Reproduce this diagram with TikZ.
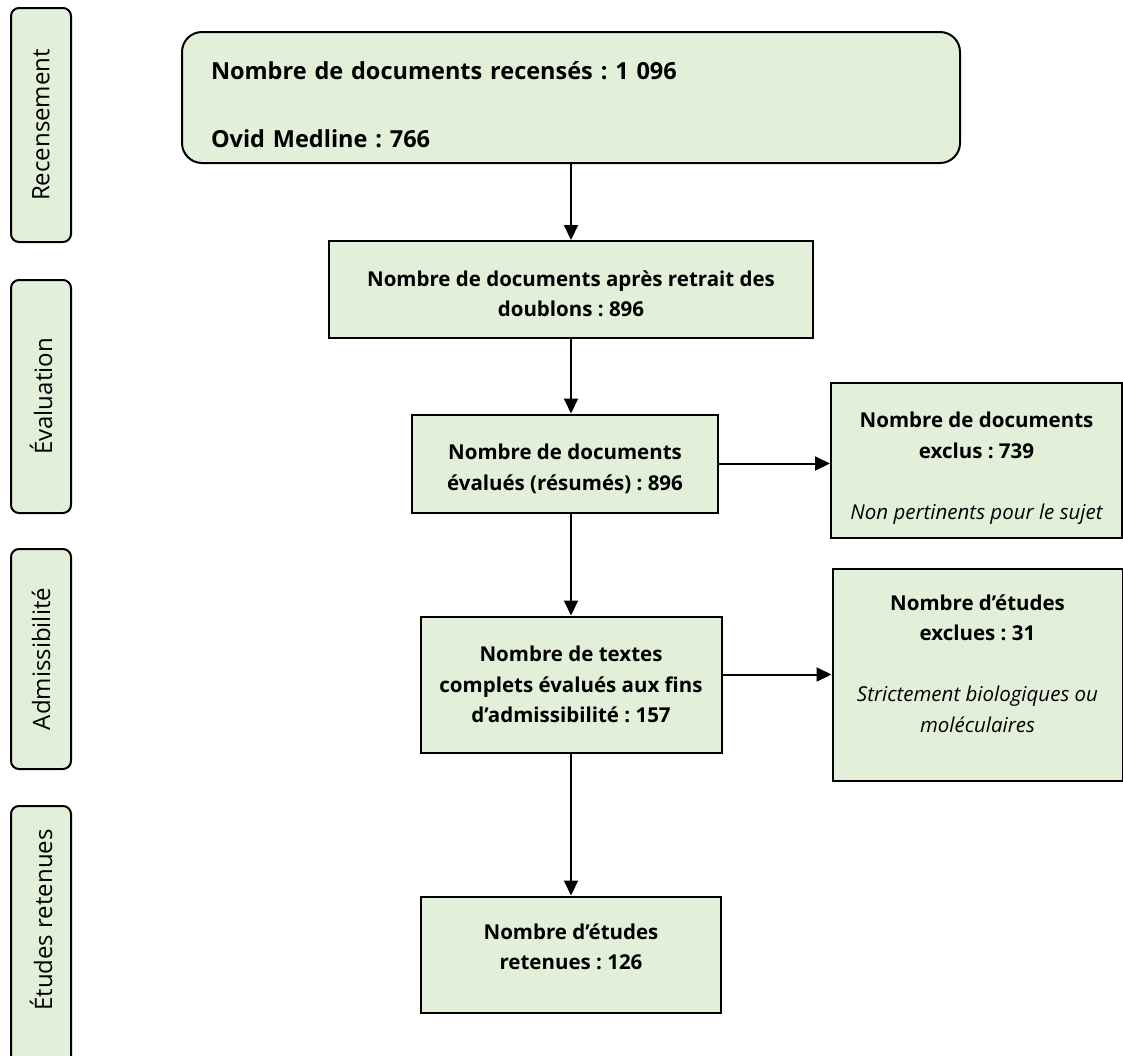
\documentclass[tikz,border=0pt]{standalone}
\usepackage{fontspec}
\setmainfont{Open Sans}
\frenchspacing
\usetikzlibrary{positioning,arrows.meta}
\definecolor{boxgreen}{HTML}{E2EFD9}

\begin{document}
\begin{tikzpicture}[x=1pt,y=-1pt,node distance=100pt,>={Triangle[length=15pt,width=14pt]},line width=2pt,
    flowbox/.style={draw, fill=boxgreen, align=center, inner sep=0pt, font=\bfseries\fontsize{20.5}{30.5}\selectfont},
    phase/.style={draw, fill=boxgreen, rounded corners=8pt, rotate=90, minimum height=60pt, inner sep=0pt, font=\fontsize{24}{28}\selectfont}]
        \useasboundingbox (0,0) rectangle (1123,1055);
        \clip (0,0) rectangle (1123,1055);
        \node (recensement) [phase, minimum width=234pt] at (41,125) {Recensement};
        \node (evaluation) [phase, minimum width=233pt] at (41,396.5) {Évaluation};
        \node (admissibilite) [phase, minimum width=220pt] at (41,659) {Admissibilité};
        \node (etudes) [phase, minimum width=270pt] at (41,941) {\hspace*{42pt}Études retenues};
        \node (recens) [flowbox, rounded corners=20pt, align=left, minimum width=778pt, minimum height=131pt, text width=720pt, font=\bfseries\fontsize{23.5}{34}\selectfont] at (571,97.5) {\rule{0pt}{33pt}Nombre de documents recensés : 1 096\\[34pt]Ovid Medline : 766};
        \node (doublons) [flowbox, below of=recens, yshift=-92pt, minimum width=484pt, minimum height=97pt] {\rule{0pt}{24pt}Nombre de documents après retrait des\\doublons : 896};
        \node (evalues) [flowbox, below of=doublons, yshift=-74pt, xshift=-6pt, minimum width=306pt, minimum height=98pt] {\rule{0pt}{26pt}Nombre de documents\\évalués (résumés) : 896};
        \node (admiss) [flowbox, below of=evalues, yshift=-121pt, xshift=6pt, minimum width=301pt, minimum height=136pt] {Nombre de textes\\complets évalués aux fins\\d’admissibilité : 157};
        \node (retenues) [flowbox, below of=admiss, yshift=-170pt, minimum width=300pt, minimum height=116pt] {Nombre d’études\\retenues : 126\rule[-16pt]{0pt}{16pt}};
        \node (exclusdoc) [flowbox, right of=evalues, xshift=311.5pt, yshift=3pt, minimum width=291pt, minimum height=155pt] {\rule{0pt}{31pt}Nombre de documents\\exclus : 739\\[30.5pt]{\mdseries\itshape Non pertinents pour le sujet}};
        \node (exclusetu) [flowbox, right of=admiss, xshift=306.5pt, yshift=10pt, minimum width=290pt, minimum height=212pt] {Nombre d’études\\exclues : 31\\[30.5pt]{\mdseries\itshape Strictement biologiques ou}\\{\mdseries\itshape moléculaires}\rule[-22pt]{0pt}{22pt}};
        \draw[->] (recens) -- (doublons);
        \draw[->] (doublons) -- (doublons |- evalues.north);
        \draw[->] (admiss.north |- evalues.south) -- (admiss);
        \draw[->] (admiss) -- (retenues);
        \draw[->] (evalues) -- (evalues -| exclusdoc.west);
        \draw[->] (admiss.east |- exclusetu.west) -- (exclusetu.west);
    \end{tikzpicture}
\end{document}
